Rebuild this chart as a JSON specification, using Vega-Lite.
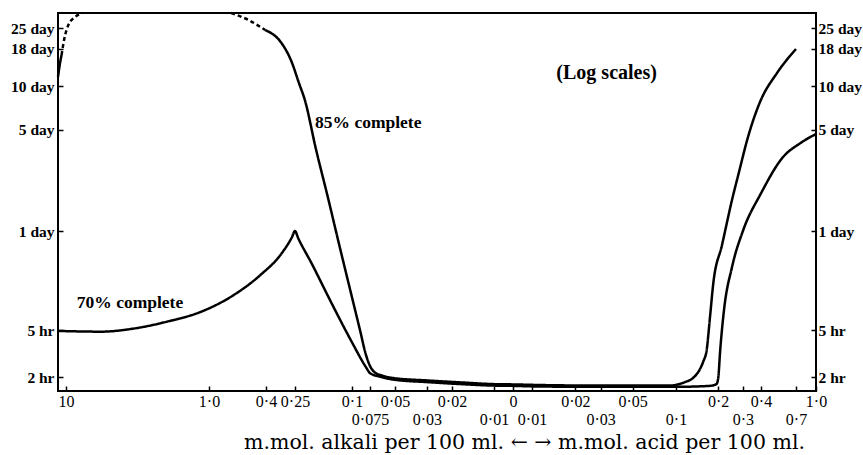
{
  "$schema": "https://vega.github.io/schema/vega-lite/v6.json",
  "width": 758,
  "height": 378,
  "autosize": {"type": "none"},
  "padding": {"left": 58, "top": 13, "right": 47, "bottom": 64},
  "background": "white",
  "config": {"view": {"stroke": "black", "strokeWidth": 2}, "font": "Liberation Serif", "axis": {"labelOverlap": false, "labelFlush": false, "labelBound": false}},
  "datasets": {
    "curves": [
      {"seg": "85a", "style": "solid", "c": -11.3, "h": 277},
      {"seg": "85a", "style": "solid", "c": -11.01, "h": 346},
      {"seg": "85a", "style": "solid", "c": -10.75, "h": 393},
      {"seg": "85b", "style": "dashed", "c": -10.75, "h": 393},
      {"seg": "85b", "style": "dashed", "c": -10.33, "h": 498},
      {"seg": "85b", "style": "dashed", "c": -9.64, "h": 632},
      {"seg": "85b", "style": "dashed", "c": -8.65, "h": 717},
      {"seg": "85b", "style": "dashed", "c": -7.75, "h": 765},
      {"seg": "85c", "style": "dashed", "c": -0.7, "h": 765},
      {"seg": "85c", "style": "dashed", "c": -0.533, "h": 684},
      {"seg": "85c", "style": "dashed", "c": -0.406, "h": 584},
      {"seg": "85d", "style": "solid", "c": -0.406, "h": 584},
      {"seg": "85d", "style": "solid", "c": -0.319, "h": 473},
      {"seg": "85d", "style": "solid", "c": -0.2715, "h": 363},
      {"seg": "85d", "style": "solid", "c": -0.2374, "h": 251},
      {"seg": "85d", "style": "solid", "c": -0.219, "h": 192},
      {"seg": "85d", "style": "solid", "c": -0.184, "h": 87.8},
      {"seg": "85d", "style": "solid", "c": -0.1492, "h": 42.8},
      {"seg": "85d", "style": "solid", "c": -0.1238, "h": 18.3},
      {"seg": "85d", "style": "solid", "c": -0.1, "h": 8.39},
      {"seg": "85d", "style": "solid", "c": -0.0889, "h": 4.99},
      {"seg": "85d", "style": "solid", "c": -0.0806, "h": 3.08},
      {"seg": "85d", "style": "solid", "c": -0.075, "h": 2.48},
      {"seg": "85d", "style": "solid", "c": -0.07, "h": 2.18},
      {"seg": "85d", "style": "solid", "c": -0.063, "h": 2.06},
      {"seg": "85d", "style": "solid", "c": -0.0517, "h": 1.96},
      {"seg": "85d", "style": "solid", "c": -0.0299, "h": 1.87},
      {"seg": "85d", "style": "solid", "c": -0.01758, "h": 1.8},
      {"seg": "85d", "style": "solid", "c": -0.0101, "h": 1.74},
      {"seg": "85d", "style": "solid", "c": 0, "h": 1.73},
      {"seg": "85d", "style": "solid", "c": 0.01137, "h": 1.71},
      {"seg": "85d", "style": "solid", "c": 0.0299, "h": 1.69},
      {"seg": "85d", "style": "solid", "c": 0.0774, "h": 1.69},
      {"seg": "85d", "style": "solid", "c": 0.0909, "h": 1.69},
      {"seg": "85d", "style": "solid", "c": 0.1182, "h": 1.81},
      {"seg": "85d", "style": "solid", "c": 0.1344, "h": 1.96},
      {"seg": "85d", "style": "solid", "c": 0.1486, "h": 2.34},
      {"seg": "85d", "style": "solid", "c": 0.1575, "h": 2.71},
      {"seg": "85d", "style": "solid", "c": 0.1672, "h": 3.39},
      {"seg": "85d", "style": "solid", "c": 0.1767, "h": 6.14},
      {"seg": "85d", "style": "solid", "c": 0.1862, "h": 10.47},
      {"seg": "85d", "style": "solid", "c": 0.2158, "h": 19.2},
      {"seg": "85d", "style": "solid", "c": 0.2563, "h": 39.3},
      {"seg": "85d", "style": "solid", "c": 0.2846, "h": 61.2},
      {"seg": "85d", "style": "solid", "c": 0.3286, "h": 106.8},
      {"seg": "85d", "style": "solid", "c": 0.3945, "h": 186},
      {"seg": "85d", "style": "solid", "c": 0.5249, "h": 295},
      {"seg": "85d", "style": "solid", "c": 0.7, "h": 432},
      {"seg": "70", "style": "solid", "c": -11.3, "h": 4.91},
      {"seg": "70", "style": "solid", "c": -5.78, "h": 4.84},
      {"seg": "70", "style": "solid", "c": -3.38, "h": 5.13},
      {"seg": "70", "style": "solid", "c": -1.98, "h": 5.7},
      {"seg": "70", "style": "solid", "c": -1.156, "h": 6.68},
      {"seg": "70", "style": "solid", "c": -0.676, "h": 8.7},
      {"seg": "70", "style": "solid", "c": -0.44, "h": 11.95},
      {"seg": "70", "style": "solid", "c": -0.319, "h": 16.85},
      {"seg": "70", "style": "solid", "c": -0.2655, "h": 21.8},
      {"seg": "70", "style": "solid", "c": -0.25, "h": 24},
      {"seg": "70", "style": "solid", "c": -0.2406, "h": 21.6},
      {"seg": "70", "style": "solid", "c": -0.197, "h": 14.26},
      {"seg": "70", "style": "solid", "c": -0.1425, "h": 7.89},
      {"seg": "70", "style": "solid", "c": -0.1, "h": 3.93},
      {"seg": "70", "style": "solid", "c": -0.0811, "h": 2.45},
      {"seg": "70", "style": "solid", "c": -0.0748, "h": 2.15},
      {"seg": "70", "style": "solid", "c": -0.0637, "h": 2.0},
      {"seg": "70", "style": "solid", "c": -0.0517, "h": 1.9},
      {"seg": "70", "style": "solid", "c": -0.0299, "h": 1.81},
      {"seg": "70", "style": "solid", "c": -0.01758, "h": 1.74},
      {"seg": "70", "style": "solid", "c": -0.0101, "h": 1.69},
      {"seg": "70", "style": "solid", "c": 0, "h": 1.68},
      {"seg": "70", "style": "solid", "c": 0.01137, "h": 1.66},
      {"seg": "70", "style": "solid", "c": 0.0299, "h": 1.65},
      {"seg": "70", "style": "solid", "c": 0.1, "h": 1.65},
      {"seg": "70", "style": "solid", "c": 0.175, "h": 1.68},
      {"seg": "70", "style": "solid", "c": 0.1953, "h": 1.74},
      {"seg": "70", "style": "solid", "c": 0.2005, "h": 1.96},
      {"seg": "70", "style": "solid", "c": 0.2086, "h": 3.39},
      {"seg": "70", "style": "solid", "c": 0.2239, "h": 6.86},
      {"seg": "70", "style": "solid", "c": 0.2566, "h": 13.6},
      {"seg": "70", "style": "solid", "c": 0.3026, "h": 24.4},
      {"seg": "70", "style": "solid", "c": 0.398, "h": 43.2},
      {"seg": "70", "style": "solid", "c": 0.581, "h": 77.7},
      {"seg": "70", "style": "solid", "c": 0.769, "h": 97.1},
      {"seg": "70", "style": "solid", "c": 1.0, "h": 112}
    ],
    "curveLabels": [
      {"label": "85% complete", "c": -0.187, "h": 133},
      {"label": "70% complete", "c": -8.42, "h": 7.63}
    ],
    "note": [
      {"label": "(Log scales)", "c": 0.0337, "h": 295}
    ]
  },
  "layer": [
    {
      "data": {"name": "curves"},
      "mark": {"type": "line", "color": "black", "strokeWidth": 2.5, "interpolate": "monotone"},
      "encoding": {
        "x": {
          "field": "c",
          "type": "quantitative",
          "scale": {
            "type": "linear",
            "nice": false,
            "zero": false,
            "domain": [-11.3, -11, -10, -9, -8, -7, -5, -3, -2, -1.5, -1, -0.7, -0.5, -0.4, -0.25, -0.15, -0.1, -0.075, -0.05, -0.03, -0.02, -0.015, -0.01, 0, 0.01, 0.015, 0.02, 0.03, 0.05, 0.07, 0.1, 0.15, 0.2, 0.3, 0.4, 0.5, 0.7, 1],
            "range": [0, 2.1, 8, 14.5, 21.9, 30.2, 51, 82.8, 108, 125.8, 151, 173.2, 194, 208, 237, 268.8, 294, 312, 337, 368.8, 394, 411.8, 436, 455, 474, 499.4, 517.3, 542.7, 574.7, 595.7, 618, 642.7, 660.1, 684.8, 703, 716.3, 738, 758]
          },
          "axis": {
            "values": [-10, -1, -0.4, -0.25, -0.1, -0.075, -0.05, -0.03, -0.02, -0.01, 0, 0.01, 0.02, 0.03, 0.05, 0.1, 0.2, 0.3, 0.4, 0.7, 1],
            "tickCount": 60,
            "labelExpr": "indexof([-0.075,-0.03,-0.01,0.01,0.03,0.1,0.3,0.7], datum.value) >= 0 ? ['', (abs(datum.value) == 1 ? '1·0' : replace(toString(abs(datum.value)), '.', '·'))] : (abs(datum.value) == 1 ? '1·0' : replace(toString(abs(datum.value)), '.', '·'))",
            "labelOverlap": false,
            "labelFlush": false,
            "labelBound": false,
            "domain": false,
            "grid": false,
            "ticks": true,
            "tickSize": -5,
            "tickWidth": 1.5,
            "tickColor": "black",
            "labelFont": "Liberation Serif",
            "labelFontSize": 16,
            "labelColor": "black",
            "labelPadding": 7,
            "labelLineHeight": 18,
            "title": "m.mol. alkali per 100 ml. ←  → m.mol. acid per 100 ml.",
            "titleFont": "DejaVu Serif",
            "titleFontSize": 20.5,
            "titleFontWeight": "normal",
            "titleColor": "black",
            "titleX": 466,
            "titleY": 51,
            "titleAlign": "center",
            "titleBaseline": "middle"
          }
        },
        "y": {
          "field": "h",
          "type": "quantitative",
          "scale": {
            "type": "log",
            "nice": false,
            "zero": false,
            "domain": [1.52, 2, 5, 24, 765],
            "range": [378, 364, 317, 218, 0]
          },
          "axis": {
            "orient": "left",
            "values": [2, 5, 24, 120, 240, 432, 600],
            "tickCount": 30,
            "labelExpr": "datum.value < 24 ? datum.value + ' hr' : (datum.value / 24) + ' day'",
            "labelOverlap": false,
            "domain": false,
            "grid": false,
            "tickSize": -5,
            "tickWidth": 1.5,
            "tickColor": "black",
            "labelFont": "Liberation Serif",
            "labelFontSize": 15.5,
            "labelFontWeight": "bold",
            "labelColor": "black",
            "labelPadding": 9,
            "title": null
          }
        },
        "detail": {"field": "seg", "type": "nominal"},
        "strokeDash": {
          "field": "style",
          "type": "nominal",
          "scale": {"domain": ["solid", "dashed"], "range": [[1, 0], [4, 3]]},
          "legend": null
        }
      }
    },
    {
      "data": {"name": "curveLabels"},
      "mark": {"type": "text", "align": "left", "baseline": "middle", "font": "Liberation Serif", "fontSize": 17.5, "fontWeight": "bold", "color": "black"},
      "encoding": {
        "x": {"field": "c", "type": "quantitative"},
        "y": {"field": "h", "type": "quantitative", "axis": null},
        "text": {"field": "label", "type": "nominal"}
      }
    },
    {
      "data": {"name": "note"},
      "mark": {"type": "text", "align": "center", "baseline": "middle", "font": "Liberation Serif", "fontSize": 20, "fontWeight": "bold", "color": "black"},
      "encoding": {
        "x": {"field": "c", "type": "quantitative"},
        "y": {
          "field": "h",
          "type": "quantitative",
          "axis": {
            "orient": "right",
            "values": [2, 5, 24, 120, 240, 432, 600],
            "tickCount": 30,
            "labelExpr": "datum.value < 24 ? datum.value + ' hr' : (datum.value / 24) + ' day'",
            "labelOverlap": false,
            "domain": false,
            "grid": false,
            "tickSize": -5,
            "tickWidth": 1.5,
            "tickColor": "black",
            "labelFont": "Liberation Serif",
            "labelFontSize": 15.5,
            "labelFontWeight": "bold",
            "labelColor": "black",
            "labelPadding": 7,
            "title": null
          }
        },
        "text": {"field": "label", "type": "nominal"}
      }
    }
  ],
  "resolve": {"axis": {"y": "independent"}}
}
